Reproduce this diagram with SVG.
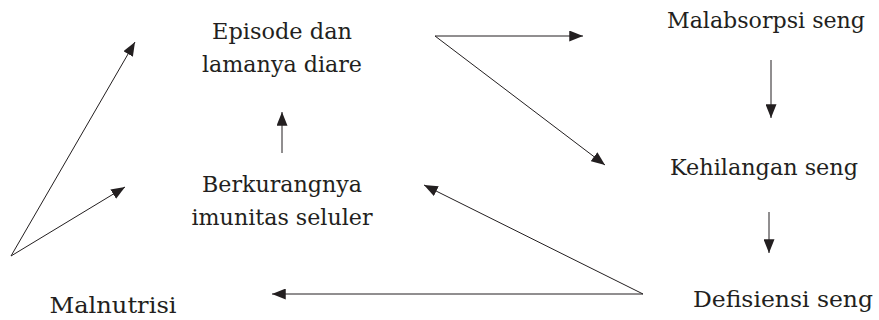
<svg xmlns="http://www.w3.org/2000/svg" width="879" height="320" viewBox="0 0 879 320">
<style>
.t{font-family:'DejaVu Serif',serif;font-size:22px;fill:#231f20;text-anchor:middle}
.c line{stroke:#231f20;stroke-width:1;fill:none}
</style>
<defs>
<marker id="a" viewBox="0 0 10 8" refX="10" refY="4" markerWidth="14" markerHeight="11" markerUnits="userSpaceOnUse" orient="auto">
<path d="M0,0 L10,4 L0,8 Z" fill="#231f20"/>
</marker>
</defs>
<rect width="879" height="320" fill="#fff"/>
<g id="episode"><text class="t" x="282" y="39" textLength="140" lengthAdjust="spacingAndGlyphs">Episode dan</text><text class="t" x="282" y="72" textLength="160" lengthAdjust="spacingAndGlyphs">lamanya diare</text></g>
<g id="berkurangnya"><text class="t" x="282" y="192" textLength="160" lengthAdjust="spacingAndGlyphs">Berkurangnya</text><text class="t" x="282" y="225" textLength="181" lengthAdjust="spacingAndGlyphs">imunitas seluler</text></g>
<g id="malnutrisi"><text class="t" x="113" y="313" textLength="127" lengthAdjust="spacingAndGlyphs">Malnutrisi</text></g>
<g id="malabsorpsi"><text class="t" x="766" y="28" textLength="198" lengthAdjust="spacingAndGlyphs">Malabsorpsi seng</text></g>
<g id="kehilangan"><text class="t" x="764" y="175" textLength="188" lengthAdjust="spacingAndGlyphs">Kehilangan seng</text></g>
<g id="defisiensi"><text class="t" x="783" y="307" textLength="180" lengthAdjust="spacingAndGlyphs">Defisiensi seng</text></g>
<g class="c" id="connectors">
<line x1="11" y1="256" x2="135" y2="42" marker-end="url(#a)"/>
<line x1="11" y1="256" x2="125" y2="187" marker-end="url(#a)"/>
<line x1="282" y1="153" x2="282" y2="112" marker-end="url(#a)"/>
<line x1="435" y1="36" x2="583" y2="36" marker-end="url(#a)"/>
<line x1="435" y1="36" x2="605" y2="165" marker-end="url(#a)"/>
<line x1="771" y1="60" x2="771" y2="118" marker-end="url(#a)"/>
<line x1="769" y1="212" x2="769" y2="253" marker-end="url(#a)"/>
<line x1="643" y1="294" x2="424" y2="185" marker-end="url(#a)"/>
<line x1="643" y1="294" x2="272" y2="294" marker-end="url(#a)"/>
</g>
</svg>
